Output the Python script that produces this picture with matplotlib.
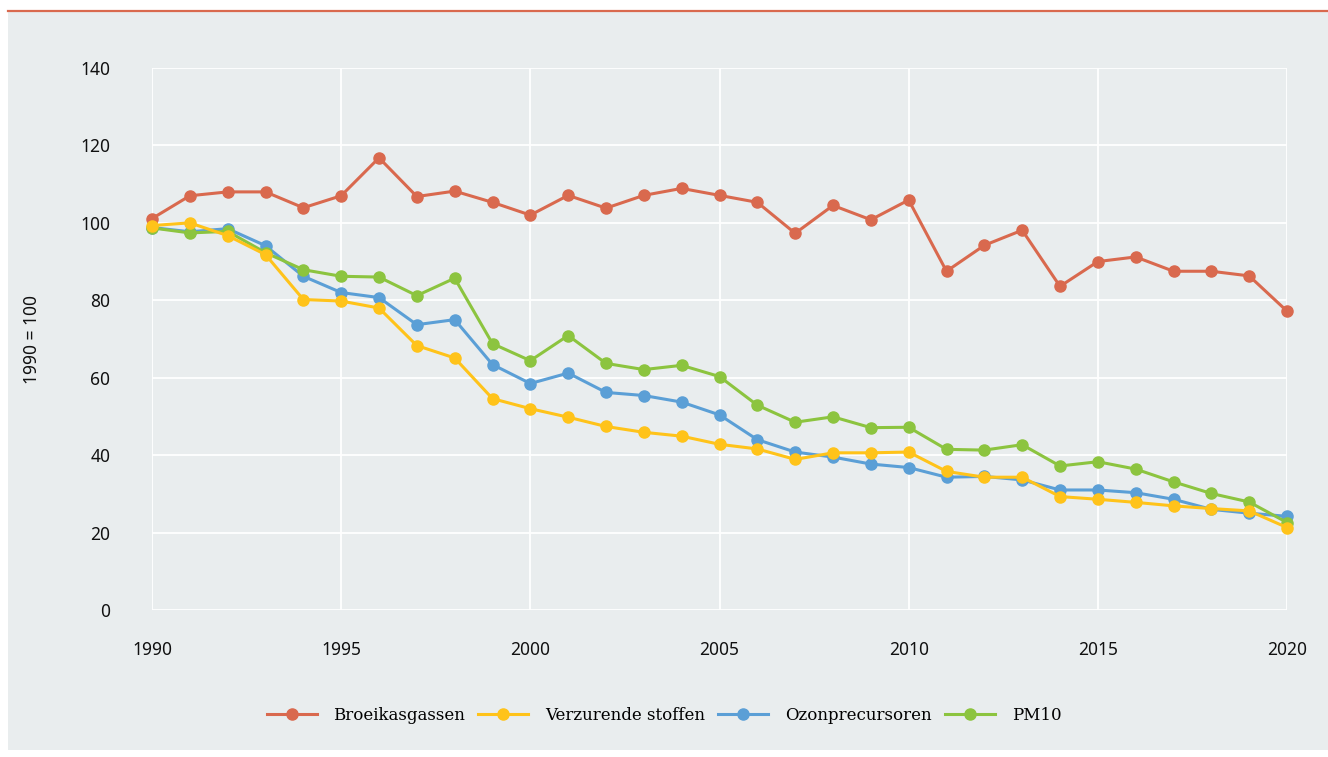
import matplotlib
matplotlib.use("Agg")
import matplotlib.pyplot as plt
from matplotlib.lines import Line2D

years = list(range(1990, 2021))

broeikas = [101.1, 107.0, 108.0, 108.0, 103.9, 107.0, 116.8, 106.8, 108.2, 105.3,
            102.0, 107.1, 103.8, 107.1, 108.9, 107.1, 105.3, 97.3, 104.5, 100.8,
            105.9, 87.5, 94.2, 98.1, 83.6, 90.0, 91.2, 87.5, 87.5, 86.3, 77.2]
verzurend = [99.3, 100.0, 96.7, 91.8, 80.2, 79.8, 78.0, 68.3, 65.1, 54.6,
             52.0, 49.8, 47.4, 45.9, 44.9, 42.8, 41.6, 38.9, 40.6, 40.6,
             40.8, 35.8, 34.3, 34.3, 29.3, 28.6, 27.8, 26.9, 26.2, 25.6, 21.3]
ozon = [98.8, 97.7, 98.5, 94.1, 86.2, 82.0, 80.7, 73.7, 75.0, 63.4,
        58.5, 61.2, 56.2, 55.4, 53.7, 50.4, 44.0, 40.8, 39.5, 37.7,
        36.8, 34.3, 34.5, 33.6, 31.0, 31.0, 30.3, 28.6, 26.0, 25.0, 24.2]
pm10 = [98.7, 97.4, 97.8, 92.3, 87.9, 86.2, 86.0, 81.2, 85.7, 68.8,
        64.4, 70.9, 63.7, 62.1, 63.2, 60.3, 52.9, 48.5, 49.9, 47.1,
        47.2, 41.5, 41.3, 42.7, 37.2, 38.3, 36.4, 33.1, 30.1, 27.9, 22.6]

series = [
    ("Broeikasgassen", broeikas, "#D9694E", 2),
    ("Verzurende stoffen", verzurend, "#FFC31A", 5),
    ("Ozonprecursoren", ozon, "#5B9FD6", 3),
    ("PM10", pm10, "#8CC43F", 4),
]

bg = "#E9EDEE"
fig = plt.figure(figsize=(13.28, 7.57), dpi=100)
fig.patch.set_facecolor("white")

# grey panel + orange rule on top
fig.patches.append(plt.Rectangle((8 / 1328, 7 / 757), 1 - 8 / 1328, 1 - 17 / 757,
                                 transform=fig.transFigure, facecolor=bg,
                                 edgecolor="none", zorder=-5))
fig.lines.append(Line2D([8 / 1328, 1], [1 - 11 / 757, 1 - 11 / 757],
                        transform=fig.transFigure, color="#D9694E", lw=1.6))

ax = fig.add_axes([152 / 1328, 1 - 610 / 757, (1287 - 152) / 1328, (610 - 68) / 757])
ax.set_facecolor(bg)

for name, vals, col, z in series:
    ax.plot(years, vals, color=col, lw=2.2, marker="o", markersize=8,
            label=name, zorder=z, clip_on=False)

ax.set_xlim(1990, 2020)
ax.set_ylim(0, 140)
ax.set_xticks(range(1990, 2021, 5))
ax.set_yticks(range(0, 141, 20))
ax.grid(True, color="white", lw=1.3)
ax.set_axisbelow(True)
for s in ax.spines.values():
    s.set_visible(False)
ax.tick_params(length=0, labelsize=12.5, colors="#111111")
ax.tick_params(axis="y", pad=30)
ax.tick_params(axis="x", pad=22)
for lab in ax.get_xticklabels() + ax.get_yticklabels():
    lab.set_family("Noto Sans")
ax.set_ylabel("1990 = 100", fontsize=12.5, family="Noto Sans",
              color="#111111", labelpad=28)

leg = fig.legend(loc="center", bbox_to_anchor=(0.5, 1 - 715 / 757), ncol=4,
                 frameon=False, prop={"family": "DejaVu Serif", "size": 12},
                 handlelength=3.0, columnspacing=0.8, handletextpad=1.0)
for h in leg.legend_handles:
    h.set_markersize(8)

fig.savefig("out.png", dpi=100, facecolor="white")
